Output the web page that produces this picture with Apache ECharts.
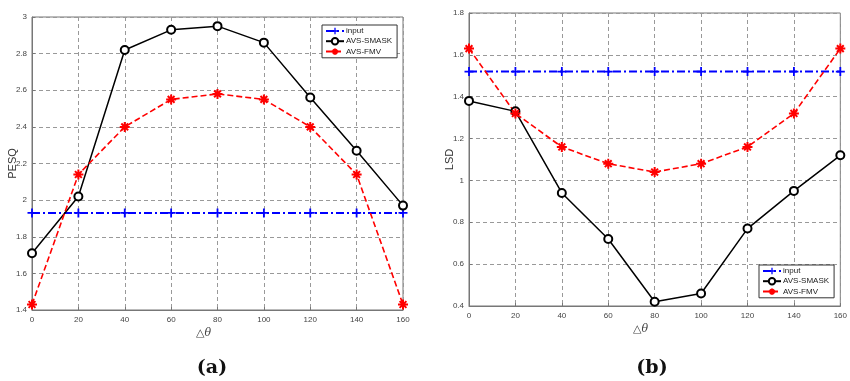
<!DOCTYPE html>
<html><head><meta charset="utf-8">
<script src="https://cdn.jsdelivr.net/npm/echarts@6/dist/echarts.min.js"></script>
<style>html,body{margin:0;padding:0;background:#fff}#c{width:850px;height:381px}</style>
</head><body><div id="c"></div>
<script>
const theta = [0, 20, 40, 60, 80, 100, 120, 140, 160];
const xTicks = [0, 20, 40, 60, 80, 100, 120, 140, 160];
const pesqInput = [1.93, 1.93, 1.93, 1.93, 1.93, 1.93, 1.93, 1.93, 1.93];
const pesqSmask = [1.71, 2.02, 2.82, 2.93, 2.95, 2.86, 2.56, 2.27, 1.97];
const pesqFmv   = [1.43, 2.14, 2.40, 2.55, 2.58, 2.55, 2.40, 2.14, 1.43];
const lsdInput  = [1.52, 1.52, 1.52, 1.52, 1.52, 1.52, 1.52, 1.52, 1.52];
const lsdSmask  = [1.38, 1.33, 0.94, 0.72, 0.42, 0.46, 0.77, 0.95, 1.12];
const lsdFmv    = [1.63, 1.32, 1.16, 1.08, 1.04, 1.08, 1.16, 1.32, 1.63];
const pesqTicks = [1.4, 1.6, 1.8, 2, 2.2, 2.4, 2.6, 2.8, 3];
const lsdTicks  = [0.4, 0.6, 0.8, 1, 1.2, 1.4, 1.6, 1.8];
const names = ['input', 'AVS-SMASK', 'AVS-FMV'];

const FONT = 'Liberation Sans';
const pair = ys => theta.map((x, i) => [x, ys[i]]);
const plusPath = 'path://M4,0 L6,0 L6,4 L10,4 L10,6 L6,6 L6,10 L4,10 L4,6 L0,6 L0,4 L4,4 Z';
const starPath = 'path://M5,0 L5,10 M0,5 L10,5 M1.6,1.6 L8.4,8.4 M8.4,1.6 L1.6,8.4';

function xAxis(gi) {
  return {
    type: 'value', gridIndex: gi, min: xTicks[0], max: xTicks[xTicks.length - 1], interval: 20,
    name: '△θ', nameLocation: 'middle', nameGap: 18, nameMoveOverlap: false,
    nameTextStyle: { fontFamily: 'DejaVu Serif', fontSize: 11, color: '#444', fontStyle: 'italic', padding: [0, 28, 0, 0] },
    axisLine: { lineStyle: { color: '#777' } },
    axisTick: { inside: true, length: 3, lineStyle: { color: '#777' } },
    axisLabel: { fontFamily: FONT, fontSize: 8, color: '#444', margin: 6 },
    splitLine: { show: true, lineStyle: { color: '#999', type: [4, 3] } }
  };
}
function yAxis(gi, ticks, name, gap) {
  return {
    type: 'value', gridIndex: gi, min: ticks[0], max: ticks[ticks.length - 1], interval: 0.2,
    name: name, nameLocation: 'middle', nameGap: gap, nameMoveOverlap: false,
    nameTextStyle: { fontFamily: FONT, fontSize: 11, color: '#333' },
    axisLine: { show: true, lineStyle: { color: '#777' } },
    axisTick: { show: true, inside: true, length: 3, lineStyle: { color: '#777' } },
    axisLabel: { fontFamily: FONT, fontSize: 8, color: '#444', margin: 5, formatter: v => String(+v.toFixed(1)) },
    splitLine: { show: true, lineStyle: { color: '#999', type: [4, 3] } }
  };
}
function series(gi, inp, sm, fm) {
  return [
    { name: names[0], type: 'line', xAxisIndex: gi, yAxisIndex: gi, data: pair(inp),
      symbol: plusPath, symbolSize: 9, showAllSymbol: true,
      lineStyle: { color: '#0000ff', width: 2, type: [8, 3, 2, 3] },
      itemStyle: { color: '#0000ff' } },
    { name: names[1], type: 'line', xAxisIndex: gi, yAxisIndex: gi, data: pair(sm),
      symbol: 'emptyCircle', symbolSize: 8, showAllSymbol: true,
      lineStyle: { color: '#000', width: 1.5 },
      itemStyle: { color: '#000', borderColor: '#000', borderWidth: 1.5 } },
    { name: names[2], type: 'line', xAxisIndex: gi, yAxisIndex: gi, data: pair(fm),
      symbol: starPath, symbolSize: 10, showAllSymbol: true,
      lineStyle: { color: '#ff0000', width: 1.6, type: [6, 3] },
      itemStyle: { color: '#ff0000', borderColor: '#ff0000', borderWidth: 2 } }
  ];
}
function legend(left, top) {
  return {
    data: names, orient: 'vertical', left: left, top: top,
    itemWidth: 18, itemHeight: 8, itemGap: 2,
    padding: [2, 5, 2, 3], backgroundColor: '#fff', borderColor: '#333', borderWidth: 1,
    textStyle: { fontFamily: FONT, fontSize: 8, color: '#222', padding: [0, 0, 0, -3] }
  };
}
function label(text, cx) {
  return {
    text: '{p|(}{b|' + text + '}{p|)}', left: cx, top: 354, textAlign: 'center',
    textStyle: { rich: {
      p: { fontFamily: 'DejaVu Serif', fontSize: 19, color: '#111' },
      b: { fontFamily: 'DejaVu Serif', fontSize: 19, fontWeight: 'bold', color: '#111' }
    } }
  };
}

const chart = echarts.init(document.getElementById('c'), null, { renderer: 'canvas' });
chart.setOption({
  animation: false,
  backgroundColor: '#fff',
  title: [label('a', 207), label('b', 647)],
  grid: [
    { left: 32, top: 17, width: 371, height: 293, show: true, borderColor: '#777', borderWidth: 1, backgroundColor: '#fff' },
    { left: 469, top: 13, width: 372, height: 293, show: true, borderColor: '#777', borderWidth: 1, backgroundColor: '#fff' }
  ],
  xAxis: [xAxis(0), xAxis(1)],
  yAxis: [yAxis(0, pesqTicks, 'PESQ', 14), yAxis(1, lsdTicks, 'LSD', 14)],
  legend: [legend(322, 25), legend(759, 265)],
  series: [...series(0, pesqInput, pesqSmask, pesqFmv), ...series(1, lsdInput, lsdSmask, lsdFmv)]
});
</script>
</body></html>
